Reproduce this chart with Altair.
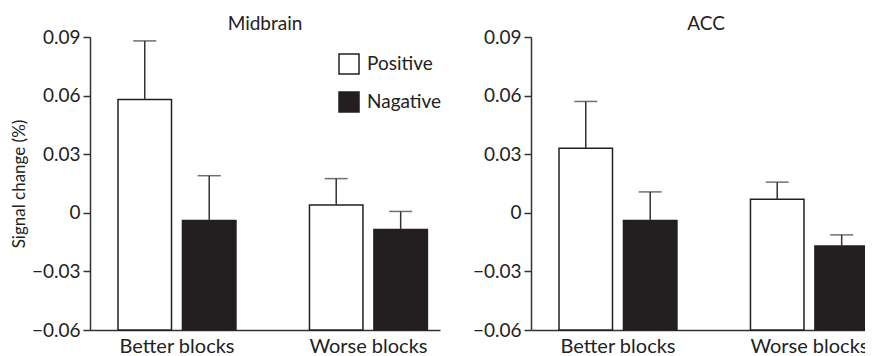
import altair as alt
import pandas as pd

regions = ["Midbrain", "ACC"]
blocks = ["Better blocks", "Better blocks", "Worse blocks", "Worse blocks"]
conditions = ["Positive", "Nagative", "Positive", "Nagative"]
midbrain_means = [0.058, -0.004, 0.004, -0.0086]
midbrain_errs = [0.030, 0.023, 0.0135, 0.0093]
acc_means = [0.033, -0.004, 0.007, -0.017]
acc_errs = [0.024, 0.0147, 0.0087, 0.0057]
y_ticks = [-0.06, -0.03, 0, 0.03, 0.06, 0.09]

FONT = "Lato"
INK = "#231f20"
FS = 19


def panel(title, means, errs, show_legend, show_ytitle):
    df = pd.DataFrame({
        "block": blocks,
        "condition": conditions,
        "mean": means,
        "top": [m + e for m, e in zip(means, errs)],
    })
    base = alt.Chart(df)
    x = alt.X("block:N", title=None,
              scale=alt.Scale(paddingInner=0.384, paddingOuter=0.106, align=0.69),
              axis=alt.Axis(labelAngle=0, ticks=False, labelFontSize=20,
                            labelPadding=6, domainColor="#333", domainWidth=1.5,
                            labelColor="#222"))
    xo = alt.XOffset("condition:N", sort=["Positive", "Nagative"],
                     scale=alt.Scale(paddingInner=0.17, paddingOuter=0))
    yscale = alt.Scale(domain=[-0.06, 0.09], nice=False, zero=False)
    y = alt.Y("mean:Q", scale=yscale,
              title="Signal change (%)" if show_ytitle else None,
              axis=alt.Axis(values=y_ticks, grid=False, tickSize=7, tickWidth=1.5,
                            tickColor="#333", domainColor="#333", domainWidth=1.5,
                            labelFontSize=FS, labelColor="#222", labelPadding=3,
                            titleFontSize=17, titleFontWeight="normal",
                            titleColor="#222", titlePadding=3,
                            labelExpr="datum.value == 0 ? '0' : format(datum.value, '.2f')"))
    legend = None
    if show_legend:
        legend = alt.Legend(title=None, orient="none", legendX=248, legendY=16,
                            symbolType="square", symbolSize=400,
                            symbolStrokeColor=INK, symbolStrokeWidth=1.5,
                            labelFontSize=FS, labelColor="#222", labelOffset=7,
                            rowPadding=12)
    color = alt.Color("condition:N", sort=["Positive", "Nagative"],
                      scale=alt.Scale(domain=["Positive", "Nagative"], range=["white", INK]),
                      legend=legend)
    bars = base.mark_bar(stroke=INK, strokeWidth=1.5).encode(
        x=x, xOffset=xo, y=y, y2=alt.datum(-0.06), color=color)
    rules = base.mark_rule(color="#333", strokeWidth=1.5).encode(
        x=x, xOffset=xo, y=alt.Y("mean:Q", scale=yscale), y2="top:Q")
    caps = base.mark_tick(color="#333", thickness=1.5, size=23, orient="horizontal").encode(
        x=x, xOffset=xo, y=alt.Y("top:Q", scale=yscale))
    return alt.layer(bars, rules, caps).properties(
        width=350, height=293,
        title=alt.Title(title, fontSize=FS, fontWeight="normal", color="#222",
                        font=FONT, offset=-6, frame="group"))


left = panel(regions[0], midbrain_means, midbrain_errs, True, True)
right = panel(regions[1], acc_means, acc_errs, False, False)

chart = alt.hconcat(left, right, spacing=30).resolve_scale(color="independent").properties(
    padding={"left": 2, "top": 7, "right": -16, "bottom": 5}
).configure(font=FONT).configure_view(stroke=None)

chart.save("out.html", embed_options={"renderer": "svg", "actions": False})
